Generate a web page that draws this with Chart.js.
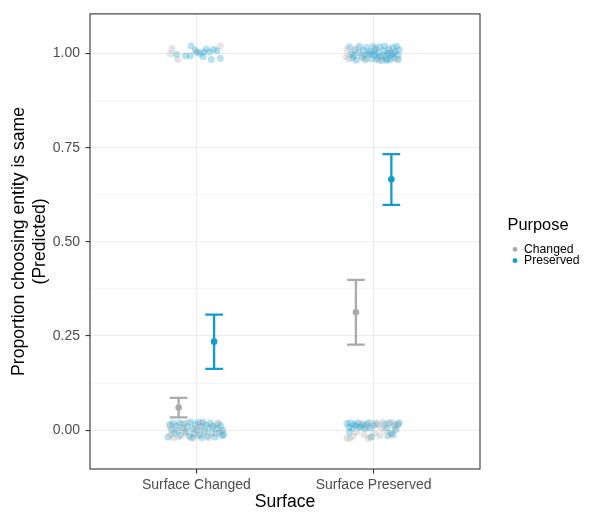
<!DOCTYPE html>
<html>
<head>
<meta charset="utf-8">
<script src="https://cdn.jsdelivr.net/npm/chart.js@4/dist/chart.umd.min.js"></script>
<style>
  html, body { margin: 0; padding: 0; background: #ffffff; }
  canvas { display: block; }
</style>
</head>
<body>
<canvas id="c" width="592" height="513"></canvas>
<script>
// ---- data ----
const categories = ['Surface Changed', 'Surface Preserved'];
const purposes = ['Changed', 'Preserved'];
const yTickValues = [0, 0.125, 0.25, 0.375, 0.5, 0.625, 0.75, 0.875, 1.0];

const changedMean  = [0.060, 0.313];
const changedLower = [0.034, 0.227];
const changedUpper = [0.086, 0.399];
const preservedMean  = [0.235, 0.666];
const preservedLower = [0.163, 0.598];
const preservedUpper = [0.307, 0.733];

// raw jittered responses: [jitter offset, response]
const rawChangedSC1 = [[-0.137,1.013],[-0.146,0.999],[-0.105,0.984],[0.135,1.020],[0.0,1.004]];
const rawPreservedSC1 = [[-0.112,0.997],[-0.062,0.994],[-0.030,1.020],[-0.006,1.009],[0.004,1.003],[0.041,1.004],[0.038,0.991],[0.075,1.004],[0.097,1.011],[0.116,1.007],[0.084,0.984],[0.135,0.987],[-0.034,0.993],[0.022,1.000],[0.056,1.012]];
const rawChangedSP1 = [[-0.150,1.012],[-0.155,0.992],[-0.140,0.985],[-0.120,1.003],[-0.090,1.015],[-0.040,0.988],[0.010,1.010],[0.060,0.990],[0.100,1.005],[0.130,0.985],[-0.070,0.995],[0.030,0.982]];
const rawPreservedSP1 = [[-0.135,1.018],[-0.128,0.998],[-0.118,0.988],[-0.105,1.010],[-0.098,0.982],[-0.085,1.002],[-0.078,1.019],[-0.065,0.990],[-0.058,1.008],[-0.048,0.983],[-0.040,1.016],[-0.030,0.998],[-0.022,1.006],[-0.012,0.986],[-0.005,1.019],[0.004,0.995],[0.012,1.013],[0.018,0.984],[0.025,1.002],[0.033,1.018],[0.040,0.992],[0.048,0.981],[0.055,1.007],[0.062,1.020],[0.070,0.986],[0.078,0.999],[0.085,1.012],[0.092,0.983],[0.100,0.994],[0.108,1.016],[0.115,0.988],[0.122,1.004],[0.130,1.019],[0.138,0.996],[0.144,1.010],[0.140,0.984],[-0.110,0.994],[-0.050,0.996],[0.005,1.004],[0.060,0.996],[0.110,0.999],[0.075,0.982],[0.025,0.990],[-0.015,1.000],[0.090,1.001]];
const rawChangedSC0 = [[-0.150,0.010],[-0.145,-0.012],[-0.120,0.004],[-0.100,-0.018],[-0.085,0.015],[-0.060,-0.008],[-0.045,0.020],[-0.030,-0.020],[-0.010,0.002],[0.010,-0.015],[0.030,0.018],[0.050,-0.005],[0.070,-0.020],[0.090,0.012],[0.110,-0.010],[0.125,0.020],[0.140,-0.002],[-0.130,-0.020],[0.020,0.008],[-0.070,0.000]];
const rawPreservedSC0 = [[-0.160,-0.018],[-0.150,0.015],[-0.140,0.002],[-0.132,0.019],[-0.125,-0.008],[-0.115,0.012],[-0.105,-0.002],[-0.095,0.020],[-0.090,-0.014],[-0.078,0.006],[-0.068,0.018],[-0.058,-0.004],[-0.050,0.010],[-0.040,-0.016],[-0.032,0.022],[-0.022,0.004],[-0.015,-0.010],[-0.005,0.016],[0.005,0.000],[0.012,0.021],[0.020,-0.012],[0.028,0.010],[0.038,0.022],[0.045,-0.003],[0.055,0.014],[0.062,-0.016],[0.070,0.006],[0.080,0.019],[0.088,-0.008],[0.095,0.010],[0.105,-0.018],[0.112,0.003],[0.120,0.016],[0.130,-0.006],[0.138,0.012],[0.145,-0.015],[0.150,0.000],[0.155,-0.012],[-0.020,-0.020],[0.030,-0.020]];
const rawChangedSP0 = [[-0.150,-0.020],[-0.135,-0.022],[-0.115,-0.016],[-0.095,-0.005],[-0.070,0.018],[-0.040,0.008],[-0.010,0.020],[0.005,-0.008],[0.020,0.015],[0.035,-0.015],[0.050,0.022],[0.065,0.000],[0.080,0.018],[0.095,-0.010],[0.110,0.020],[0.125,0.005],[-0.055,-0.012],[-0.020,-0.018],[0.040,0.005],[0.140,0.015],[-0.030,-0.022]];
const rawPreservedSP0 = [[-0.150,0.018],[-0.140,0.008],[-0.130,0.020],[-0.120,0.005],[-0.110,0.015],[-0.100,0.012],[-0.090,0.020],[-0.080,0.008],[-0.070,0.010],[-0.060,0.016],[-0.050,0.004],[-0.040,0.014],[-0.030,0.020],[-0.020,0.006],[-0.012,-0.018],[0.000,0.012],[0.015,0.018],[0.060,0.015],[0.075,0.006],[0.090,0.020],[0.100,-0.008],[0.115,0.012],[0.125,0.002],[0.135,0.015],[0.145,0.020],[0.110,-0.012],[0.080,-0.015],[-0.135,-0.005]];

// ---- styles ----
const FONT = '"Liberation Sans", Arial, Helvetica, sans-serif';
const GRAY = '#aaaaaa';
const BLUE = '#139bcc';
const GRAY_A = 'rgba(170,170,170,0.3)';
const BLUE_A = 'rgba(19,155,204,0.3)';
const DODGE = 0.1;
const CAP = 0.05;

function toPts(raw, catIndex) {
  return raw.map(p => ({ x: catIndex + 1 + p[0], y: p[1] }));
}
function isMajor(v) { return Math.abs(v * 4 - Math.round(v * 4)) < 1e-9; }

const rawDatasets = [
  { label: 'rawChanged', data: toPts(rawChangedSC1, 0).concat(toPts(rawChangedSC0, 0), toPts(rawChangedSP1, 1), toPts(rawChangedSP0, 1)), color: GRAY_A },
  { label: 'rawPreserved', data: toPts(rawPreservedSC1, 0).concat(toPts(rawPreservedSC0, 0), toPts(rawPreservedSP1, 1), toPts(rawPreservedSP0, 1)), color: BLUE_A }
].map(d => ({
  type: 'scatter', label: d.label, data: d.data,
  backgroundColor: d.color, borderWidth: 0, pointRadius: 3.5, pointHoverRadius: 3.5
}));

const summaries = [
  { label: purposes[0], mean: changedMean, lower: changedLower, upper: changedUpper, color: GRAY, dodge: -DODGE },
  { label: purposes[1], mean: preservedMean, lower: preservedLower, upper: preservedUpper, color: BLUE, dodge: DODGE }
];

const meanDatasets = summaries.map(s => ({
  type: 'scatter', label: s.label,
  data: s.mean.map((m, i) => ({ x: i + 1 + s.dodge, y: m })),
  backgroundColor: s.color, borderWidth: 0, pointRadius: 3.3, pointHoverRadius: 3.3
}));

const errorBarPlugin = {
  id: 'errorBars',
  afterDatasetsDraw(chart) {
    const { ctx, scales: { x, y } } = chart;
    ctx.save();
    summaries.forEach(s => {
      ctx.strokeStyle = s.color;
      ctx.lineWidth = 2.3;
      ctx.lineCap = 'butt';
      s.mean.forEach((m, i) => {
        const cx = i + 1 + s.dodge;
        const px = x.getPixelForValue(cx);
        const pl = x.getPixelForValue(cx - CAP);
        const pr = x.getPixelForValue(cx + CAP);
        const yl = y.getPixelForValue(s.lower[i]);
        const yu = y.getPixelForValue(s.upper[i]);
        ctx.beginPath();
        ctx.moveTo(px, yl); ctx.lineTo(px, yu);
        ctx.moveTo(pl, yl); ctx.lineTo(pr, yl);
        ctx.moveTo(pl, yu); ctx.lineTo(pr, yu);
        ctx.stroke();
      });
    });
    ctx.restore();
  }
};

const panelAndLegendPlugin = {
  id: 'panelLegend',
  afterDraw(chart) {
    const { ctx, chartArea: a } = chart;
    ctx.save();
    ctx.strokeStyle = '#333333';
    ctx.lineWidth = 1.1;
    ctx.strokeRect(a.left, a.top, a.right - a.left, a.bottom - a.top);
    // legend
    ctx.fillStyle = '#000000';
    ctx.textBaseline = 'middle';
    ctx.textAlign = 'left';
    ctx.font = '16.4px ' + FONT;
    ctx.fillText('Purpose', 507.5, 225.5);
    ctx.font = '12.2px ' + FONT;
    const itemY = [249.3, 260.7];
    summaries.forEach((s, i) => {
      ctx.fillStyle = s.color;
      ctx.beginPath();
      ctx.arc(515, itemY[i], 2.4, 0, Math.PI * 2);
      ctx.fill();
      ctx.fillStyle = '#000000';
      ctx.fillText(s.label, 524, itemY[i]);
    });
    ctx.restore();
  }
};

new Chart(document.getElementById('c'), {
  type: 'scatter',
  data: { datasets: rawDatasets.concat(meanDatasets) },
  options: {
    responsive: false,
    devicePixelRatio: 1,
    animation: false,
    events: [],
    layout: { padding: { left: 0, right: 112, top: 12, bottom: 0 } },
    plugins: { legend: { display: false }, tooltip: { enabled: false } },
    scales: {
      x: {
        type: 'linear', bounds: 'data', min: 0.4, max: 2.6,
        afterBuildTicks: s => { s.ticks = categories.map((c, i) => ({ value: i + 1 })); },
        afterFit: s => { s.height = 44; },
        ticks: {
          autoSkip: false, maxRotation: 0, padding: 3,
          color: '#4d4d4d', font: { family: FONT, size: 14 },
          callback: v => categories[Math.round(v) - 1]
        },
        grid: { color: '#ebebeb', lineWidth: 1.1, tickColor: '#333333', tickLength: 4.5, tickWidth: 1.1 },
        border: { display: false },
        title: {
          display: true, text: 'Surface', color: '#000000',
          font: { family: FONT, size: 17.6, lineHeight: 1.2 },
          padding: { top: 0, bottom: 0.5 }
        }
      },
      y: {
        type: 'linear', bounds: 'data', min: -0.103, max: 1.105,
        afterBuildTicks: s => { s.ticks = yTickValues.map(v => ({ value: v })); },
        afterFit: s => { s.width = 90; },
        ticks: {
          autoSkip: false, padding: 5.5,
          color: '#4d4d4d', font: { family: FONT, size: 14 },
          callback: v => isMajor(v) ? v.toFixed(2) : ''
        },
        grid: {
          color: '#ebebeb',
          lineWidth: c => (c.tick && isMajor(c.tick.value)) ? 1.1 : 0.55,
          tickColor: c => (c.tick && isMajor(c.tick.value)) ? '#333333' : 'rgba(0,0,0,0)',
          tickLength: 4.5, tickWidth: 1.1
        },
        border: { display: false },
        title: {
          display: true, text: ['Proportion choosing entity is same', '(Predicted)'], color: '#000000',
          font: { family: FONT, size: 17.6, lineHeight: 1.2 },
          padding: { top: 8.5, bottom: 0 }
        }
      }
    }
  },
  plugins: [errorBarPlugin, panelAndLegendPlugin]
});
</script>
</body>
</html>
